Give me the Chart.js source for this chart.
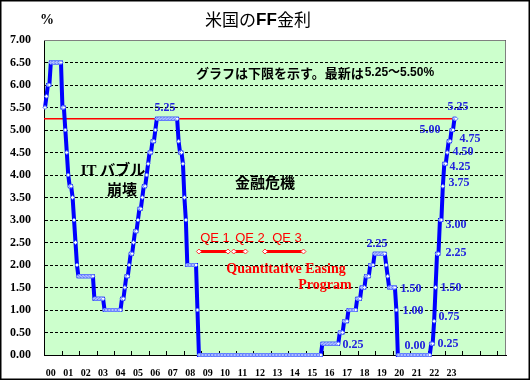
<!DOCTYPE html>
<html>
<head>
<meta charset="utf-8">
<script src="https://cdn.jsdelivr.net/npm/chart.js@4.4.1/dist/chart.umd.min.js"></script>
<style>
    html, body { margin: 0; padding: 0; background: #fff; }
    canvas { display: block; }
</style>
</head>
<body>
<canvas id="ffChart" width="530" height="381"></canvas>
<script>
"use strict";

/**----------------------------------------------------------------------
 * [Chart data: FF rate lower bound, one value per month from Jan 2000]
 *--------------------------------------------------------------*/
const yearLabels = ['00', '01', '02', '03', '04', '05', '06', '07', '08', '09', '10', '11',
    '12', '13', '14', '15', '16', '17', '18', '19', '20', '21', '22', '23'];

const ffLower = [
    5.50, 5.75, 6.00, 6.00, 6.50, 6.50, 6.50, 6.50, 6.50, 6.50, 6.50, 6.50, // 2000
    5.50, 5.50, 5.00, 4.50, 4.00, 3.75, 3.75, 3.50, 3.00, 2.50, 2.00, 1.75, // 2001
    1.75, 1.75, 1.75, 1.75, 1.75, 1.75, 1.75, 1.75, 1.75, 1.75, 1.25, 1.25, // 2002
    1.25, 1.25, 1.25, 1.25, 1.25, 1.00, 1.00, 1.00, 1.00, 1.00, 1.00, 1.00, // 2003
    1.00, 1.00, 1.00, 1.00, 1.00, 1.25, 1.25, 1.50, 1.75, 1.75, 2.00, 2.25, // 2004
    2.25, 2.50, 2.75, 2.75, 3.00, 3.25, 3.25, 3.50, 3.75, 3.75, 4.00, 4.25, // 2005
    4.50, 4.50, 4.75, 4.75, 5.00, 5.25, 5.25, 5.25, 5.25, 5.25, 5.25, 5.25, // 2006
    5.25, 5.25, 5.25, 5.25, 5.25, 5.25, 5.25, 5.25, 4.75, 4.50, 4.50, 4.25, // 2007
    3.50, 3.00, 2.00, 2.00, 2.00, 2.00, 2.00, 2.00, 2.00, 1.00, 0.00, 0.00, // 2008
    0.00, 0.00, 0.00, 0.00, 0.00, 0.00, 0.00, 0.00, 0.00, 0.00, 0.00, 0.00, // 2009
    0.00, 0.00, 0.00, 0.00, 0.00, 0.00, 0.00, 0.00, 0.00, 0.00, 0.00, 0.00, // 2010
    0.00, 0.00, 0.00, 0.00, 0.00, 0.00, 0.00, 0.00, 0.00, 0.00, 0.00, 0.00, // 2011
    0.00, 0.00, 0.00, 0.00, 0.00, 0.00, 0.00, 0.00, 0.00, 0.00, 0.00, 0.00, // 2012
    0.00, 0.00, 0.00, 0.00, 0.00, 0.00, 0.00, 0.00, 0.00, 0.00, 0.00, 0.00, // 2013
    0.00, 0.00, 0.00, 0.00, 0.00, 0.00, 0.00, 0.00, 0.00, 0.00, 0.00, 0.00, // 2014
    0.00, 0.00, 0.00, 0.00, 0.00, 0.00, 0.00, 0.00, 0.00, 0.00, 0.00, 0.25, // 2015
    0.25, 0.25, 0.25, 0.25, 0.25, 0.25, 0.25, 0.25, 0.25, 0.25, 0.25, 0.50, // 2016
    0.50, 0.50, 0.75, 0.75, 0.75, 1.00, 1.00, 1.00, 1.00, 1.00, 1.00, 1.25, // 2017
    1.25, 1.25, 1.50, 1.50, 1.50, 1.75, 1.75, 1.75, 2.00, 2.00, 2.00, 2.25, // 2018
    2.25, 2.25, 2.25, 2.25, 2.25, 2.25, 2.25, 2.00, 1.75, 1.50, 1.50, 1.50, // 2019
    1.50, 1.50, 1.00, 0.00, 0.00, 0.00, 0.00, 0.00, 0.00, 0.00, 0.00, 0.00, // 2020
    0.00, 0.00, 0.00, 0.00, 0.00, 0.00, 0.00, 0.00, 0.00, 0.00, 0.00, 0.00, // 2021
    0.00, 0.00, 0.25, 0.25, 0.75, 1.50, 2.25, 2.25, 3.00, 3.00, 3.75, 4.25, // 2022
    4.25, 4.50, 4.75, 4.75, 5.00, 5.00, 5.25, 5.25                          // 2023
];

// QE periods (month index from Jan 2000) as drawn on the chart
const qeNames = ['QE 1', 'QE 2', 'QE 3'];
const qeStart = [106, 130, 151.5];
const qeEnd = [126, 138, 178];
const qeLevel = 2.3;

const latestRate = 5.25;
const yMin = 0;
const yMax = 7;
const yStep = 0.5;

/**----------------------------------------------------------------------
 * [Handle plot background, frame, year ticks and annotation texts]
 *--------------------------------------------------------------*/
const chartDecor = {
    id: 'chartDecor',
    beforeDraw(chart) {
        const { ctx, chartArea: a } = chart;
        ctx.save();
        ctx.fillStyle = '#ccffcc';
        ctx.fillRect(a.left, a.top, a.right - a.left, a.bottom - a.top);
        ctx.restore();
    },
    beforeDatasetsDraw(chart) {
        const { ctx, chartArea: a } = chart;
        const xs = chart.scales.x;
        ctx.save();
        // grey frame on top and right
        ctx.strokeStyle = '#808080';
        ctx.lineWidth = 1;
        ctx.beginPath();
        ctx.moveTo(a.left, a.top + 0.5);
        ctx.lineTo(a.right - 0.5, a.top + 0.5);
        ctx.lineTo(a.right - 0.5, a.bottom);
        ctx.stroke();
        // year tick marks, pointing into the plot
        ctx.strokeStyle = '#000';
        ctx.beginPath();
        for (let k = 1; k * 12 - 0.5 < xs.max; k++) {
            const px = Math.round(xs.getPixelForValue(k * 12 - 0.5)) + 0.5;
            ctx.moveTo(px, a.bottom);
            ctx.lineTo(px, a.bottom - 4);
        }
        ctx.stroke();
        ctx.restore();
    },
    afterDraw(chart) {
        const ctx = chart.ctx;
        ctx.save();

        // outer frame
        ctx.strokeStyle = '#000';
        ctx.lineWidth = 1.5;
        ctx.strokeRect(0.75, 0.75, 528.5, 378.5);

        ctx.textBaseline = 'middle';

        // title with bold FF
        const cjk = '"Noto Sans CJK JP", sans-serif';
        const parts = [
            ['米国の', '17px ' + cjk],
            ['FF', 'bold 17px "Liberation Sans", sans-serif'],
            ['金利', '17px ' + cjk]
        ];
        let total = 0;
        parts.forEach(p => { ctx.font = p[1]; total += ctx.measureText(p[0]).width; });
        let tx = 258 - total / 2;
        ctx.fillStyle = '#000';
        ctx.textAlign = 'left';
        parts.forEach(p => {
            ctx.font = p[1];
            ctx.fillText(p[0], tx, 20);
            tx += ctx.measureText(p[0]).width;
        });

        // unit
        ctx.font = 'bold 14px "Liberation Serif", serif';
        ctx.fillText('%', 40, 20);

        // note
        ctx.font = 'bold 13px ' + cjk;
        const note = 'グラフは下限を示す。最新は';
        ctx.fillText(note, 196, 73);
        const nw = ctx.measureText(note).width;
        ctx.font = 'bold 12px "Liberation Sans", "Noto Sans CJK JP", sans-serif';
        ctx.fillText('5.25～5.50%', 196 + nw + 1, 73);

        // event labels
        ctx.textAlign = 'center';
        ctx.font = 'bold 15px "Liberation Serif", "Noto Sans CJK JP", serif';
        ctx.fillText('IT バブル', 113, 171);
        ctx.fillText('崩壊', 122, 191);
        ctx.fillText('金融危機', 265, 184);

        // QE labels
        ctx.fillStyle = '#ff0000';
        ctx.font = '13px "Liberation Sans", sans-serif';
        const qeCenters = [215, 250, 287];
        qeNames.forEach((n, i) => ctx.fillText(n, qeCenters[i], 238));
        ctx.font = 'bold 14px "Liberation Serif", serif';
        ctx.fillText('Quantitative Easing', 286, 269);
        ctx.fillText('Program', 325, 285);

        // rate labels
        ctx.fillStyle = '#2222dd';
        ctx.font = 'bold 12px "Liberation Serif", serif';
        const rateLabels = [
            ['5.25', 165, 108], ['5.25', 458, 107], ['5.00', 430, 130],
            ['4.75', 470, 139], ['4.50', 463, 152], ['4.25', 460, 167],
            ['3.75', 459, 183], ['3.00', 456, 225], ['2.25', 456, 253],
            ['2.25', 377, 244], ['1.50', 411, 289], ['1.00', 413, 311],
            ['0.00', 415, 346], ['0.25', 353, 345], ['1.50', 451, 288],
            ['0.75', 449, 317], ['0.25', 448, 344]
        ];
        rateLabels.forEach(l => ctx.fillText(l[0], l[1], l[2]));

        ctx.restore();
    }
};

/**----------------------------------------------------------------------
 * [Handle datasets built from the arrays above]
 *--------------------------------------------------------------*/
const lastIndex = ffLower.length - 1;

const datasets = [{
    data: ffLower.map((v, i) => ({ x: i, y: v })),
    borderColor: '#0000ff',
    borderWidth: 4,
    pointStyle: 'rectRot',
    pointRadius: 2,
    pointBackgroundColor: '#ffffff',
    pointBorderColor: '#5a78ff',
    pointBorderWidth: 1,
    tension: 0,
    clip: false
}, {
    data: [{ x: -0.7, y: latestRate }, { x: lastIndex, y: latestRate }],
    borderColor: '#ff0000',
    borderWidth: 1.5,
    pointRadius: 0
}];

qeNames.forEach((n, i) => {
    datasets.push({
        data: [{ x: qeStart[i], y: qeLevel }, { x: qeEnd[i], y: qeLevel }],
        borderColor: '#ff0000',
        borderWidth: 3,
        pointStyle: 'rectRot',
        pointRadius: 2.5,
        pointBackgroundColor: '#ffffff',
        pointBorderColor: '#ff3333',
        pointBorderWidth: 1
    });
});

/**----------------------------------------------------------------------
 * [Handle initialization of the chart]
 *--------------------------------------------------------------*/
new Chart(document.getElementById('ffChart').getContext('2d'), {
    type: 'line',
    data: { datasets: datasets },
    plugins: [chartDecor],
    options: {
        responsive: false,
        animation: false,
        devicePixelRatio: 1,
        layout: { padding: { left: 0, right: 24, top: 40, bottom: 0 } },
        plugins: {
            legend: { display: false },
            tooltip: { enabled: false }
        },
        scales: {
            x: {
                type: 'linear',
                min: -0.7,
                max: 317.5,
                afterFit: axis => { axis.height = 26; },
                afterBuildTicks: axis => {
                    axis.ticks = yearLabels.map((l, i) => ({ value: i * 12 + 4 }));
                },
                grid: { display: false, drawTicks: false },
                border: { display: true, color: '#000', width: 1 },
                ticks: {
                    autoSkip: false,
                    maxRotation: 0,
                    padding: 12,
                    color: '#000',
                    font: { family: '"Liberation Serif", serif', size: 10, weight: 'bold' },
                    callback: (v, i) => yearLabels[i]
                }
            },
            y: {
                min: yMin,
                max: yMax,
                afterFit: axis => { axis.width = 44; },
                grid: { color: '#000', lineWidth: 1, drawTicks: false },
                border: { display: true, color: '#000', width: 1, dash: [3, 2] },
                ticks: {
                    stepSize: yStep,
                    padding: 13,
                    color: '#000',
                    font: { family: '"Liberation Serif", serif', size: 12, weight: 'bold' },
                    callback: v => v.toFixed(2)
                }
            }
        }
    }
});
</script>
</body>
</html>
